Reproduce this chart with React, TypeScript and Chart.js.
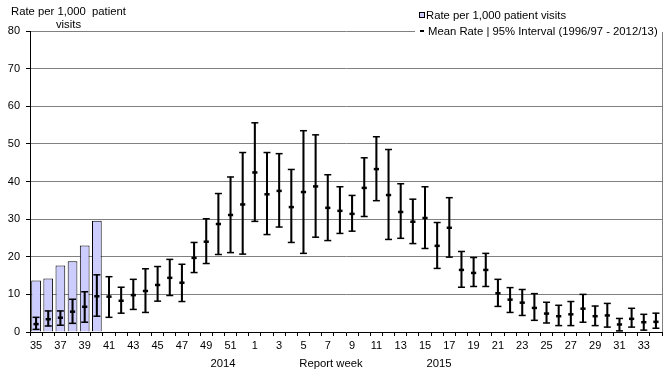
import React, { useEffect, useRef } from "react";
import { Chart, registerables } from "chart.js";

Chart.register(...registerables);

const weeks = [
  "35", "36", "37", "38", "39", "40", "41", "42", "43", "44", "45", "46", "47", "48", "49", "50", "51", "52",
  "1", "2", "3", "4", "5", "6", "7", "8", "9", "10", "11", "12", "13", "14", "15", "16", "17",
  "18", "19", "20", "21", "22", "23", "24", "25", "26", "27", "28", "29", "30", "31", "32", "33", "34",
];

const rate = [13.7, 14.2, 17.7, 18.8, 23.0, 29.6];

const meanRate = [
  2.1, 3.4, 3.8, 5.4, 6.7, 9.5, 9.4, 8.3, 9.8, 10.9, 12.5, 14.4, 13.1, 19.7, 24.0, 28.7, 31.1, 33.9,
  42.4, 36.6, 37.5, 33.2, 37.2, 38.7, 33.0, 32.2, 31.4, 38.3, 43.3, 36.4, 31.9, 29.3, 30.3, 22.9, 27.7,
  16.5, 15.7, 16.5, 10.3, 8.6, 7.8, 6.4, 4.9, 4.2, 4.7, 6.2, 4.2, 4.4, 2.0, 3.5, 2.6, 2.7,
];

const lower95 = [
  0.7, 1.6, 1.8, 2.3, 2.6, 4.2, 3.9, 5.0, 6.0, 5.2, 8.2, 9.7, 8.1, 15.8, 18.2, 20.6, 21.1, 20.7,
  29.4, 25.9, 27.9, 23.8, 20.9, 25.2, 24.3, 26.2, 26.8, 30.7, 34.9, 24.6, 24.9, 23.5, 22.2, 16.9, 19.9,
  11.9, 12.1, 12.1, 6.8, 5.2, 4.4, 3.1, 2.4, 1.7, 1.7, 2.6, 1.7, 1.3, 0.3, 1.3, 0.5, 1.0,
];

const upper95 = [
  3.9, 5.6, 5.6, 8.7, 10.7, 15.2, 14.7, 11.9, 14.0, 16.8, 17.4, 19.3, 18.0, 23.8, 30.1, 36.8, 41.2, 47.7,
  55.6, 47.7, 47.4, 43.2, 53.5, 52.4, 41.8, 38.6, 36.3, 46.3, 51.9, 48.5, 39.4, 35.3, 38.6, 29.1, 35.7,
  21.4, 19.8, 20.9, 14.0, 11.8, 11.3, 10.2, 7.9, 7.1, 8.1, 10.0, 6.9, 7.6, 3.6, 6.3, 4.7, 5.0,
];

const yTicks = [0, 10, 20, 30, 40, 50, 60, 70, 80];

const FONT = '"Liberation Sans", Arial, sans-serif';
const BAR_FILL = "#CCCCFF";

const overlay = {
  id: "overlay",
  afterDraw(chart: any) {
    const ctx = chart.ctx;
    const a = chart.chartArea;
    ctx.save();
    // right border of plot area
    ctx.strokeStyle = "#808080";
    ctx.lineWidth = 1;
    ctx.beginPath();
    const rx = Math.round(a.right) + 0.5;
    ctx.moveTo(rx, a.top);
    ctx.lineTo(rx, a.bottom);
    ctx.stroke();

    // legend background
    ctx.fillStyle = "#ffffff";
    ctx.fillRect(415, 0, 255, 32);

    ctx.font = "11.3px " + FONT;
    ctx.textBaseline = "middle";
    ctx.textAlign = "left";

    // legend item 1
    ctx.fillStyle = BAR_FILL;
    ctx.fillRect(419.5, 12.5, 5, 5);
    ctx.strokeStyle = "#000";
    ctx.strokeRect(419.5, 12.5, 5, 5);
    ctx.fillStyle = "#000";
    ctx.fillText("Rate per 1,000 patient visits", 426, 15.5);

    // legend item 2
    ctx.fillRect(420, 30, 4, 2);
    ctx.fillText("Mean Rate | 95% Interval (1996/97 - 2012/13)", 428, 31.5);

    // y axis title
    ctx.textAlign = "center";
    ctx.fillText("Rate per 1,000  patient", 68.5, 11.5);
    ctx.fillText("visits", 68.5, 24.5);

    // x axis secondary labels
    ctx.fillText("2014", 223, 363.5);
    ctx.fillText("Report week", 331, 363.5);
    ctx.fillText("2015", 439, 363.5);
    ctx.restore();
  },
};

export default function App() {
  const ref = useRef<HTMLCanvasElement | null>(null);

  useEffect(() => {
    if (!ref.current) return;
    const chart = new Chart(ref.current, {
      type: "bar",
      data: {
        labels: weeks,
        datasets: [
          {
            type: "line",
            label: "Mean",
            data: meanRate,
            showLine: false,
            pointStyle: "line",
            pointRadius: 2.6,
            pointHoverRadius: 2.6,
            borderColor: "#000",
            pointBorderColor: "#000",
            pointBorderWidth: 2.5,
            order: 1,
          } as any,
          {
            type: "line",
            label: "Upper",
            data: upper95,
            showLine: false,
            pointStyle: "line",
            pointRadius: 3.5,
            pointHoverRadius: 3.5,
            borderColor: "#000",
            pointBorderColor: "#000",
            pointBorderWidth: 1.5,
            order: 2,
          } as any,
          {
            type: "line",
            label: "Lower",
            data: lower95,
            showLine: false,
            pointStyle: "line",
            pointRadius: 3.5,
            pointHoverRadius: 3.5,
            borderColor: "#000",
            pointBorderColor: "#000",
            pointBorderWidth: 1.5,
            order: 2,
          } as any,
          {
            type: "bar",
            label: "Interval",
            data: lower95.map((l, i) => [l, upper95[i]]),
            backgroundColor: "#000",
            borderWidth: 0,
            barThickness: 1.4,
            grouped: false,
            order: 3,
          } as any,
          {
            type: "bar",
            label: "Rate per 1,000 patient visits",
            data: rate,
            backgroundColor: BAR_FILL,
            borderColor: "#000",
            borderWidth: 1,
            barPercentage: 0.8,
            categoryPercentage: 1,
            grouped: false,
            order: 5,
          } as any,
        ],
      },
      options: {
        animation: false,
        responsive: false,
        devicePixelRatio: 1,
        layout: { padding: { top: 31, right: 8, left: 0, bottom: 0 } },
        plugins: {
          legend: { display: false },
          tooltip: { enabled: false },
          title: { display: false },
        },
        scales: {
          x: {
            offset: true,
            grid: {
              display: true,
              drawOnChartArea: false,
              drawTicks: true,
              tickLength: 4,
              tickColor: "#000",
              offset: true,
            },
            border: { color: "#000", width: 1 },
            ticks: {
              autoSkip: false,
              maxRotation: 0,
              minRotation: 0,
              padding: 3,
              color: "#000",
              font: { family: FONT, size: 11 },
              callback: (_v: any, i: number) => (i % 2 === 0 ? weeks[i] : ""),
            },
            afterFit: (s: any) => {
              s.height = 43;
            },
          },
          y: {
            min: yTicks[0],
            max: yTicks[yTicks.length - 1],
            afterBuildTicks: (s: any) => {
              s.ticks = yTicks.map((v) => ({ value: v }));
            },
            grid: {
              color: "#808080",
              tickColor: "#000",
              tickLength: 4,
              lineWidth: 1,
            },
            border: { color: "#000", width: 1 },
            ticks: {
              padding: 6,
              color: "#000",
              font: { family: FONT, size: 11 },
            },
            afterFit: (s: any) => {
              s.width = 30;
            },
          },
        },
      },
      plugins: [overlay],
    });
    return () => chart.destroy();
  }, []);

  return (
    <div style={{ position: "fixed", left: 0, top: 0, width: 670, height: 375, background: "#fff" }}>
      <canvas ref={ref} width={670} height={375} style={{ display: "block", width: 670, height: 375 }} />
    </div>
  );
}
